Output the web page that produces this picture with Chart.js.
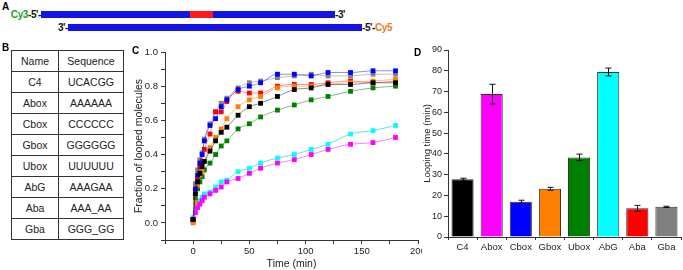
<!DOCTYPE html>
<html><head><meta charset="utf-8">
<script src="https://cdn.jsdelivr.net/npm/chart.js@4.4.0/dist/chart.umd.min.js"></script>
<style>
html,body{margin:0;padding:0;background:#fff;width:683px;height:270px;overflow:hidden;font-family:"Liberation Sans",Arial,sans-serif;}
body{position:relative;}
.abs{position:absolute;}
.plab{position:absolute;font-weight:bold;font-size:10px;line-height:10px;color:#000;z-index:5;}
.strand{position:absolute;height:7px;background:#1414e6;}
.st{position:absolute;font-weight:bold;font-size:10px;line-height:11px;color:#111;white-space:nowrap;letter-spacing:-0.4px;}
table{border-collapse:collapse;position:absolute;left:11px;top:50px;width:113px;height:187px;font-size:10.5px;color:#222;}
td{border:1px solid #333;text-align:center;padding:0;height:20px;}
</style></head>
<body>
<div class="plab" style="left:2px;top:2px;">A</div>
<div class="st" style="right:642px;top:9px;"><span style="color:#1f9a1f">Cy3</span>-5'-</div>
<div class="strand" style="left:41px;top:11px;width:294px;"></div>
<div class="abs" style="left:190px;top:11px;width:23px;height:7px;background:#ff1a1a;"></div>
<div class="st" style="left:335px;top:9px;">-3'</div>
<div class="st" style="right:615px;top:22px;">3'-</div>
<div class="strand" style="left:68px;top:24px;width:294px;"></div>
<div class="st" style="left:362px;top:22px;">-5'-<span style="color:#f07820">Cy5</span></div>

<div class="plab" style="left:2px;top:43px;">B</div>
<table id="tbl"></table>

<div class="plab" style="left:132px;top:46px;">C</div>
<div class="abs" style="left:130px;top:40px;width:300px;height:230px;"><canvas id="c1" width="300" height="230"></canvas></div>
<div class="abs" style="left:422px;top:40px;width:261px;height:230px;background:#fff;z-index:2;"><canvas id="c2" width="261" height="230"></canvas></div>
<div class="plab" style="left:414px;top:48px;">D</div>

<script>
// ---- Panel B table ----
const names = ['C4','Abox','Cbox','Gbox','Ubox','AbG','Aba','Gba'];
const sequences = ['UCACGG','AAAAAA','CCCCCC','GGGGGG','UUUUUU','AAAGAA','AAA_AA','GGG_GG'];

// ---- Panel C data (time in min, fraction looped) ----
const times = [0,2,4,6,8,10,15,20,25,30,40,50,60,75,90,105,120,140,160,180];
const fracC4   = [0.02,0.17,0.24,0.29,0.33,0.36,0.42,0.48,0.53,0.56,0.63,0.68,0.70,0.74,0.78,0.79,0.81,0.81,0.82,0.82];
const fracAbox = [0.02,0.06,0.09,0.11,0.13,0.15,0.17,0.19,0.21,0.24,0.26,0.29,0.32,0.35,0.37,0.40,0.43,0.46,0.47,0.50];
const fracCbox = [0.02,0.20,0.28,0.35,0.40,0.48,0.57,0.61,0.68,0.72,0.78,0.80,0.82,0.87,0.87,0.86,0.88,0.88,0.89,0.89];
const fracGbox = [0.00,0.12,0.22,0.28,0.30,0.36,0.44,0.50,0.55,0.61,0.68,0.72,0.74,0.79,0.80,0.80,0.81,0.82,0.83,0.84];
const fracUbox = [0.02,0.14,0.20,0.24,0.27,0.31,0.35,0.40,0.45,0.48,0.55,0.58,0.62,0.66,0.69,0.72,0.74,0.77,0.79,0.80];
const fracAbG  = [0.03,0.08,0.11,0.13,0.15,0.17,0.18,0.21,0.24,0.25,0.30,0.32,0.35,0.38,0.40,0.43,0.46,0.52,0.54,0.57];
const fracAba  = [0.01,0.17,0.26,0.33,0.36,0.43,0.52,0.65,0.65,0.71,0.77,0.76,0.76,0.80,0.81,0.81,0.82,0.83,0.82,0.83];
const fracGba  = [0.02,0.23,0.31,0.37,0.41,0.49,0.58,0.65,0.70,0.73,0.79,0.82,0.83,0.85,0.86,0.87,0.86,0.86,0.87,0.87];

// ---- Panel D data ----
const loopTimes = [27.8,68.8,17.0,23.2,38.3,79.4,13.8,14.5];
const loopErr   = [0.5,4.7,0.7,0.7,1.6,1.9,1.4,0.3];

const colors = ['#000000','#ff00ff','#0000ff','#ff8000','#008000','#00ffff','#ff0000','#808080'];
const fitColors = ['rgba(0,0,0,0.45)','rgba(255,0,255,0.5)','rgba(0,0,255,0.45)','rgba(255,128,0,0.5)','rgba(0,128,0,0.5)','rgba(0,200,220,0.6)','rgba(255,0,0,0.45)','rgba(128,128,128,0.5)'];
const fracSeries = [fracC4,fracAbox,fracCbox,fracGbox,fracUbox,fracAbG,fracAba,fracGba];

// build table
const tbl = document.getElementById('tbl');
let html = '<tr><td style="width:46px">Name</td><td>Sequence</td></tr>';
names.forEach((n,i)=>{ html += '<tr><td>'+n+'</td><td>'+sequences[i]+'</td></tr>'; });
tbl.innerHTML = html;

Chart.defaults.font.family = '"Liberation Sans", Arial, sans-serif';
Chart.defaults.color = '#222';
Chart.defaults.animation = false;

// Panel C
new Chart(document.getElementById('c1'), {
  type: 'scatter',
  data: {
    datasets: fracSeries.map((arr,i)=>({
      label: names[i],
      data: times.map((t,k)=>({x:t,y:arr[k]})),
      showLine: true,
      borderColor: fitColors[i],
      borderWidth: 1,
      cubicInterpolationMode: 'monotone',
      backgroundColor: colors[i],
      pointStyle: 'rect',
      pointRadius: 3.4,
      pointBorderWidth: 0,
      pointBorderColor: colors[i]
    }))
  },
  options: {
    responsive: false,
    devicePixelRatio: 1,
    layout: {padding: {top: 12, right: 12, left: 0, bottom: 0}},
    plugins: {legend: {display: false}, tooltip: {enabled: false}},
    scales: {
      x: {
        type: 'linear', min: -25, max: 200,
        ticks: {stepSize: 25, autoSkip: false, maxRotation: 0, padding: 2, font: {size: 9.5},
          callback: v => (v >= 0 && v % 50 === 0) ? String(v) : ''},
        grid: {drawOnChartArea: false, drawTicks: true, tickLength: 4, color: '#333'},
        border: {color: '#333', width: 1},
        title: {display: true, text: 'Time (min)', font: {size: 10.5}, color: '#222', padding: {top: 0, bottom: 0}},
        afterFit: s => { s.height = 30; }
      },
      y: {
        min: -0.1, max: 1.0,
        ticks: {stepSize: 0.1, autoSkip: false, padding: 3, font: {size: 9.5},
          callback: v => { const r = Math.round(v*10); return (r >= 0 && r % 2 === 0) ? (r/10).toFixed(1) : ''; }},
        grid: {drawOnChartArea: false, drawTicks: true, tickLength: 4, color: '#333'},
        border: {color: '#333', width: 1},
        title: {display: true, text: 'Fraction of looped molecules', font: {size: 10.5}, color: '#222', padding: {top: 3, bottom: 0}},
        afterFit: s => { s.width = 35; }
      }
    }
  }
});

// Error bar plugin for panel D
const errPlugin = {
  id: 'errbars',
  afterDatasetsDraw(chart) {
    const ctx = chart.ctx, y = chart.scales.y;
    const meta = chart.getDatasetMeta(0);
    ctx.save();
    ctx.strokeStyle = '#111';
    ctx.lineWidth = 1;
    meta.data.forEach((bar, i) => {
      const x = Math.round(bar.x) + 0.5;
      const yt = y.getPixelForValue(loopTimes[i] + loopErr[i]);
      const yb = y.getPixelForValue(loopTimes[i] - loopErr[i]);
      ctx.beginPath();
      ctx.moveTo(x, yt); ctx.lineTo(x, yb);
      ctx.moveTo(x - 3, yt); ctx.lineTo(x + 3, yt);
      ctx.moveTo(x - 3, yb); ctx.lineTo(x + 3, yb);
      ctx.stroke();
    });
    ctx.restore();
  }
};

// Panel D
new Chart(document.getElementById('c2'), {
  type: 'bar',
  data: {
    labels: names,
    datasets: [{
      data: loopTimes,
      backgroundColor: colors,
      borderColor: '#333',
      borderWidth: 1,
      barPercentage: 0.76,
      categoryPercentage: 1.0
    }]
  },
  options: {
    responsive: false,
    devicePixelRatio: 1,
    layout: {padding: {top: 10, right: 2, left: 0, bottom: 0}},
    plugins: {legend: {display: false}, tooltip: {enabled: false}},
    scales: {
      x: {
        ticks: {font: {size: 9.5}, padding: 2, maxRotation: 0, autoSkip: false},
        grid: {drawOnChartArea: false, drawTicks: true, tickLength: 3, color: '#333'},
        border: {color: '#333', width: 1},
        afterFit: s => { s.height = 33; }
      },
      y: {
        min: 0, max: 90,
        ticks: {stepSize: 10, padding: 2, font: {size: 9}},
        grid: {drawOnChartArea: false, drawTicks: true, tickLength: 4, color: '#333'},
        border: {color: '#333', width: 1},
        title: {display: true, text: 'Looping time (min)', font: {size: 9.5}, color: '#222', padding: {top: 0, bottom: 0}},
        afterFit: s => { s.width = 26; }
      }
    }
  },
  plugins: [errPlugin]
});
</script>
</body></html>
